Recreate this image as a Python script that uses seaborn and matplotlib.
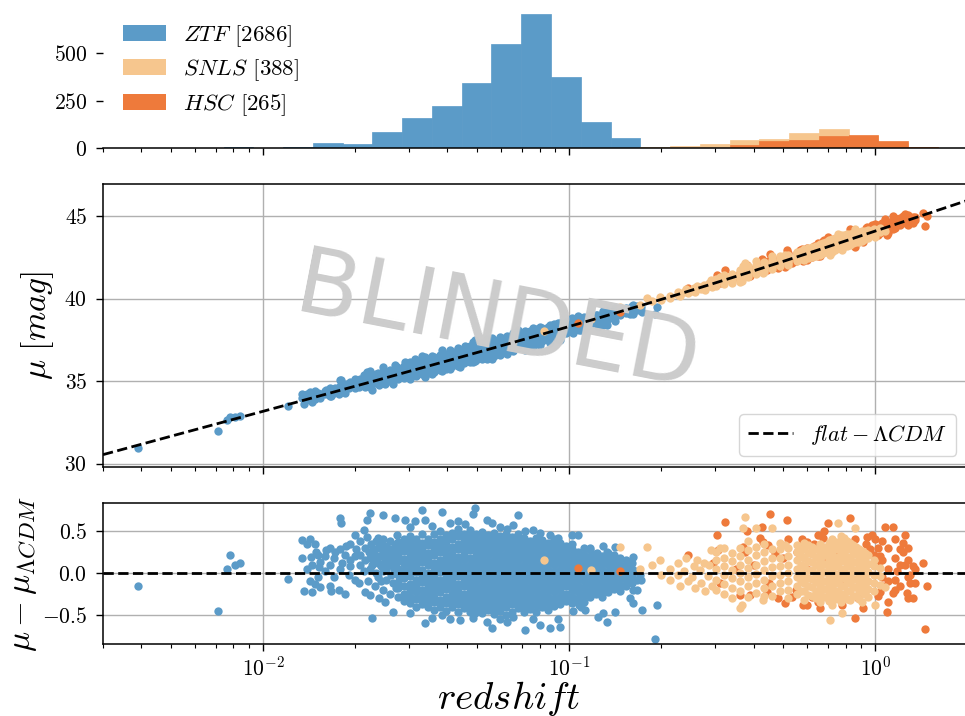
import numpy as np
import pandas as pd
import matplotlib
matplotlib.use("Agg")
import matplotlib.pyplot as plt
from matplotlib.patches import Patch
import seaborn as sns

# ---------------------------------------------------------------- data
surveys = ["ZTF", "SNLS", "HSC"]
survey_sizes = [2686, 388, 265]
survey_colors = ["#5b9bc8", "#f6c68e", "#ee7a3b"]

# histogram (log-spaced bins between hist_range)
hist_range = (0.0038, 1.6)
hist_nbins = 27
ztf_hist = [1, 0, 1, 4, 0, 4, 26, 23, 82, 160, 219, 342, 549, 707, 375, 135, 51, 7,
            0, 0, 0, 0, 0, 0, 0, 0, 0]
snls_hist = [0, 0, 0, 0, 0, 0, 0, 0, 0, 0, 0, 0, 0, 0, 1, 1, 1, 4,
             8, 19, 40, 47, 79, 100, 62, 26, 0]
hsc_hist = [0, 0, 0, 0, 0, 0, 0, 0, 0, 0, 0, 0, 0, 0, 0, 1, 1, 0,
            0, 0, 14, 36, 43, 63, 68, 35, 4]

# Hubble residuals (redshift, mu - mu_LCDM)
ztf_sparse = [
    (0.0039, -0.15), (0.0071, -0.45), (0.0076, 0.05), (0.0078, 0.22), (0.0081, 0.09), (0.0084, 0.12),
    (0.0121, -0.07), (0.0134, 0.39), (0.0134, 0.18), (0.0136, -0.22), (0.0139, 0.35), (0.0139, 0.05),
    (0.0142, 0.40), (0.0142, -0.10), (0.0143, 0.19), (0.0145, 0.10), (0.0145, -0.23), (0.0148, 0.35),
    (0.0148, -0.13), (0.0149, 0.25), (0.0151, 0.21), (0.0151, -0.05), (0.0152, 0.07), (0.0153, 0.13),
    (0.0154, -0.17), (0.0159, 0.20), (0.0159, 0.02), (0.0160, 0.27), (0.0165, 0.10), (0.0165, -0.15),
    (0.0166, 0.30), (0.0167, -0.22), (0.0171, 0.18), (0.0171, -0.05), (0.0172, 0.25), (0.0178, 0.65),
    (0.0178, 0.28), (0.0177, -0.20), (0.0179, 0.05), (0.0180, 0.60), (0.0181, 0.12), (0.0185, 0.22),
    (0.0185, -0.25), (0.0186, 0.32), (0.0192, 0.15), (0.0192, 0.35), (0.0191, -0.02), (0.0193, 0.08),
    (0.0199, 0.45), (0.0199, -0.08), (0.0200, 0.20), (0.0201, 0.28), (0.0207, 0.10), (0.0207, 0.38),
    (0.0206, -0.12), (0.0208, 0.22), (0.0215, -0.23), (0.0214, 0.51), (0.0215, 0.15), (0.0216, 0.30),
    (0.0214, 0.02), (0.0219, 0.43), (0.0219, 0.63), (0.0220, -0.10), (0.0221, 0.25), (0.0223, 0.71),
    (0.0223, -0.26), (0.0224, 0.18), (0.0224, 0.05), (0.0225, 0.35), (0.0227, -0.54), (0.0227, 0.10),
    (0.0228, 0.28), (0.0232, 0.22), (0.0232, -0.15), (0.0233, 0.38), (0.0233, 0.00), (0.0234, 0.15),
    (0.0237, 0.30), (0.0237, -0.05), (0.0238, 0.12), (0.0238, 0.42), (0.0239, -0.30), (0.0241, 0.20),
    (0.0242, -0.10), (0.0242, 0.08), (0.0243, 0.33), (0.0246, 0.69), (0.0246, -0.20), (0.0246, 0.25),
    (0.0247, 0.02), (0.0247, 0.40), (0.0248, 0.12), (0.0251, -0.35), (0.0251, 0.15), (0.0252, 0.32),
    (0.0252, -0.08), (0.0253, 0.05), (0.0253, 0.22), (0.0259, 0.28), (0.0259, -0.25), (0.0260, 0.10),
    (0.0260, 0.38), (0.0261, -0.02), (0.0261, 0.18), (0.0265, -0.46), (0.0266, 0.22), (0.0266, -0.12),
    (0.0267, 0.05), (0.0267, 0.30), (0.0270, 0.65), (0.0271, 0.12), (0.0271, -0.18), (0.0272, 0.35),
    (0.0272, 0.00), (0.0273, 0.25), (0.0273, 0.45),
    (0.0290, 0.63), (0.0302, 0.55), (0.0303, -0.48), (0.0314, 0.62), (0.0315, -0.40), (0.0330, 0.75),
    (0.0338, 0.63), (0.0339, -0.60), (0.0356, -0.54), (0.0357, 0.56), (0.0383, 0.73), (0.0384, -0.50),
    (0.0407, 0.60), (0.0408, -0.55), (0.0432, 0.62), (0.0439, -0.56), (0.0456, 0.58), (0.0485, -0.53),
    (0.0486, 0.70), (0.0492, 0.77), (0.0493, -0.48), (0.0539, 0.63), (0.0540, -0.58), (0.0560, -0.65),
    (0.0561, 0.60), (0.0594, 0.55), (0.0596, -0.55), (0.0626, -0.58), (0.0627, 0.52), (0.0655, 0.57),
    (0.0656, -0.52), (0.0680, 0.69), (0.0717, -0.68), (0.0718, 0.50), (0.0760, 0.51), (0.0761, -0.55),
    (0.0802, -0.62), (0.0803, 0.48), (0.0865, -0.66), (0.0866, 0.45), (0.0918, 0.42), (0.0919, -0.55),
    (0.0932, -0.64), (0.102, 0.45), (0.103, -0.45), (0.107, 0.45), (0.108, -0.38), (0.109, -0.40),
    (0.113, -0.44), (0.117, 0.30), (0.123, 0.24), (0.124, -0.52), (0.129, -0.48), (0.129, 0.32),
    (0.133, 0.25), (0.133, -0.58), (0.141, 0.31), (0.141, -0.46), (0.158, 0.06), (0.158, -0.30),
    (0.161, 0.19), (0.161, -0.20), (0.162, -0.36), (0.167, -0.20), (0.170, -0.02), (0.172, -0.08),
    (0.173, -0.44), (0.190, -0.78), (0.193, -0.38),
]
ztf_core_z = [0.0276, 0.0288, 0.0302, 0.0316, 0.0330, 0.0346, 0.0361, 0.0378, 0.0395, 0.0413,
              0.0432, 0.0452, 0.0474, 0.0496, 0.0518, 0.0543, 0.0568, 0.0594, 0.0621, 0.0650,
              0.0680, 0.0711, 0.0744, 0.0778, 0.0814, 0.0852, 0.0891, 0.0932, 0.0975, 0.102,
              0.107, 0.112, 0.117, 0.122, 0.128, 0.134, 0.140, 0.146, 0.153, 0.160, 0.167]
ztf_core_res = [
    [-0.28, -0.18, -0.11, -0.02, 0.05, 0.14, 0.21, 0.30, 0.37],
    [-0.33, -0.25, -0.15, -0.06, 0.02, 0.11, 0.17, 0.26, 0.33, 0.41],
    [-0.36, -0.28, -0.20, -0.13, -0.04, 0.05, 0.12, 0.20, 0.29, 0.36, 0.44],
    [-0.31, -0.23, -0.16, -0.08, 0.01, 0.08, 0.17, 0.25, 0.32, 0.40],
    [-0.37, -0.29, -0.20, -0.11, -0.04, 0.04, 0.13, 0.21, 0.28, 0.36, 0.47],
    [-0.40, -0.32, -0.24, -0.16, -0.07, 0.00, 0.09, 0.17, 0.24, 0.33, 0.41],
    [-0.44, -0.35, -0.28, -0.20, -0.12, -0.03, 0.04, 0.12, 0.21, 0.29, 0.37, 0.46],
    [-0.40, -0.32, -0.23, -0.16, -0.08, 0.01, 0.08, 0.16, 0.25, 0.32, 0.41, 0.50],
    [-0.45, -0.36, -0.28, -0.19, -0.12, -0.05, 0.04, 0.12, 0.20, 0.28, 0.37, 0.45],
    [-0.41, -0.33, -0.25, -0.17, -0.08, -0.01, 0.07, 0.15, 0.23, 0.31, 0.40, 0.48],
    [-0.46, -0.37, -0.29, -0.21, -0.13, -0.04, 0.03, 0.11, 0.19, 0.28, 0.35, 0.44, 0.52],
    [-0.42, -0.33, -0.25, -0.16, -0.09, -0.01, 0.07, 0.16, 0.23, 0.31, 0.39, 0.47],
    [-0.47, -0.38, -0.30, -0.22, -0.14, -0.06, 0.02, 0.10, 0.18, 0.27, 0.34, 0.43, 0.51],
    [-0.43, -0.35, -0.26, -0.18, -0.10, -0.02, 0.06, 0.14, 0.22, 0.30, 0.38, 0.46],
    [-0.48, -0.39, -0.31, -0.23, -0.15, -0.07, 0.01, 0.09, 0.17, 0.25, 0.33, 0.41, 0.49],
    [-0.44, -0.36, -0.27, -0.19, -0.11, -0.03, 0.05, 0.13, 0.21, 0.29, 0.37, 0.45],
    [-0.49, -0.40, -0.32, -0.24, -0.16, -0.08, 0.00, 0.08, 0.16, 0.24, 0.32, 0.40, 0.48],
    [-0.45, -0.37, -0.28, -0.20, -0.12, -0.04, 0.04, 0.12, 0.20, 0.28, 0.36, 0.44],
    [-0.50, -0.41, -0.33, -0.25, -0.17, -0.09, -0.01, 0.07, 0.15, 0.23, 0.31, 0.39, 0.47],
    [-0.46, -0.37, -0.29, -0.21, -0.13, -0.05, 0.03, 0.11, 0.19, 0.27, 0.35, 0.43],
    [-0.42, -0.33, -0.25, -0.17, -0.09, -0.01, 0.07, 0.15, 0.23, 0.31, 0.39, 0.46],
    [-0.47, -0.38, -0.30, -0.22, -0.14, -0.06, 0.02, 0.10, 0.18, 0.26, 0.34, 0.42],
    [-0.43, -0.34, -0.26, -0.18, -0.10, -0.02, 0.06, 0.14, 0.22, 0.30, 0.38],
    [-0.46, -0.38, -0.30, -0.22, -0.14, -0.06, 0.02, 0.10, 0.18, 0.26, 0.34, 0.42],
    [-0.41, -0.33, -0.25, -0.17, -0.09, -0.01, 0.07, 0.15, 0.23, 0.31, 0.39],
    [-0.44, -0.36, -0.28, -0.20, -0.12, -0.04, 0.04, 0.12, 0.20, 0.28, 0.36],
    [-0.39, -0.31, -0.23, -0.15, -0.07, 0.01, 0.09, 0.17, 0.25, 0.33, 0.41],
    [-0.37, -0.28, -0.20, -0.12, -0.04, 0.04, 0.12, 0.20, 0.28, 0.36],
    [-0.33, -0.25, -0.16, -0.08, 0.00, 0.08, 0.16, 0.24, 0.32],
    [-0.36, -0.28, -0.20, -0.12, -0.04, 0.04, 0.12, 0.20, 0.28, 0.35],
    [-0.31, -0.23, -0.15, -0.07, 0.01, 0.09, 0.17, 0.25],
    [-0.34, -0.26, -0.18, -0.10, -0.02, 0.06, 0.14, 0.22, 0.30],
    [-0.29, -0.21, -0.13, -0.05, 0.03, 0.11, 0.19, 0.27],
    [-0.25, -0.17, -0.09, -0.01, 0.07, 0.15, 0.23],
    [-0.28, -0.20, -0.12, -0.04, 0.04, 0.12, 0.20],
    [-0.23, -0.15, -0.07, 0.01, 0.09, 0.17, 0.24],
    [-0.19, -0.11, -0.03, 0.05, 0.13, 0.21],
    [-0.22, -0.14, -0.06, 0.02, 0.10, 0.18],
    [-0.16, -0.08, 0.00, 0.08, 0.15],
    [-0.12, -0.04, 0.05, 0.12],
    [-0.08, 0.02],
]

snls_sparse = [
    (0.083, 0.15), (0.118, 0.04), (0.146, 0.31), (0.170, 0.05), (0.180, 0.31), (0.186, 0.10),
    (0.198, 0.15), (0.200, -0.02), (0.214, 0.05), (0.214, -0.08), (0.227, 0.12), (0.227, -0.02),
    (0.230, -0.15), (0.237, 0.02), (0.240, 0.18), (0.244, -0.10), (0.252, -0.05), (0.255, 0.08),
    (0.258, -0.18), (0.262, 0.15), (0.267, 0.03), (0.270, -0.12), (0.275, 0.12), (0.278, -0.22),
    (0.284, -0.04), (0.287, 0.09), (0.290, 0.27), (0.292, -0.15), (0.310, 0.30), (0.361, -0.42),
    (0.366, -0.38), (0.369, 0.53), (0.374, 0.67), (0.408, 0.53), (0.429, -0.32), (0.461, 0.54),
    (0.507, 0.33), (0.711, -0.56), (0.755, 0.60), (0.780, -0.48), (0.857, 0.53), (1.00, -0.38),
    (1.075, -0.17),
]
snls_core_z = [0.301, 0.320, 0.340, 0.361, 0.384, 0.408, 0.433, 0.461, 0.489, 0.520, 0.553,
               0.570, 0.586, 0.603, 0.620, 0.640, 0.659, 0.674, 0.690, 0.706, 0.722, 0.738,
               0.755, 0.772, 0.790, 0.808, 0.826, 0.845, 0.865, 0.885, 0.905, 0.925, 0.946,
               0.990, 1.036]
snls_core_res = [
    [-0.20, -0.08, 0.05, 0.15, 0.25],
    [-0.25, -0.13, -0.02, 0.08, 0.18, 0.30],
    [-0.30, -0.18, -0.06, 0.04, 0.14, 0.24],
    [-0.22, -0.10, 0.00, 0.10, 0.20, 0.30],
    [-0.28, -0.16, -0.05, 0.06, 0.16, 0.27, 0.38],
    [-0.24, -0.12, -0.01, 0.10, 0.21, 0.31],
    [-0.27, -0.18, -0.08, 0.03, 0.14, 0.25, 0.35],
    [-0.27, -0.15, -0.04, 0.07, 0.18, 0.28],
    [-0.22, -0.12, -0.02, 0.08, 0.18, 0.28, 0.36],
    [-0.30, -0.20, -0.10, 0.00, 0.10, 0.20, 0.30],
    [-0.25, -0.15, -0.05, 0.05, 0.15, 0.25, 0.33],
    [-0.21, -0.10, 0.00, 0.10, 0.20, 0.29],
    [-0.32, -0.22, -0.12, -0.02, 0.08, 0.18, 0.28, 0.36],
    [-0.26, -0.16, -0.06, 0.04, 0.14, 0.24, 0.33],
    [-0.27, -0.17, -0.07, 0.03, 0.13, 0.23, 0.31],
    [-0.30, -0.21, -0.11, -0.01, 0.09, 0.19, 0.28],
    [-0.34, -0.24, -0.14, -0.04, 0.06, 0.16, 0.26, 0.34],
    [-0.29, -0.19, -0.09, 0.01, 0.11, 0.21, 0.31],
    [-0.28, -0.19, -0.09, 0.01, 0.11, 0.21, 0.30],
    [-0.33, -0.23, -0.13, -0.03, 0.07, 0.17, 0.27, 0.36],
    [-0.38, -0.27, -0.17, -0.07, 0.03, 0.13, 0.23, 0.32, 0.40],
    [-0.31, -0.22, -0.12, -0.02, 0.08, 0.18, 0.28, 0.37],
    [-0.30, -0.21, -0.11, -0.01, 0.09, 0.19, 0.28, 0.37],
    [-0.35, -0.25, -0.15, -0.05, 0.05, 0.15, 0.25, 0.34, 0.44],
    [-0.26, -0.16, -0.06, 0.04, 0.14, 0.24, 0.33, 0.42],
    [-0.31, -0.21, -0.11, -0.01, 0.09, 0.19, 0.29, 0.38],
    [-0.32, -0.22, -0.12, -0.02, 0.08, 0.18, 0.28, 0.36],
    [-0.27, -0.17, -0.07, 0.03, 0.13, 0.23, 0.33],
    [-0.27, -0.17, -0.07, 0.03, 0.13, 0.23, 0.31],
    [-0.31, -0.21, -0.11, -0.01, 0.09, 0.19, 0.28],
    [-0.34, -0.23, -0.13, -0.03, 0.07, 0.17, 0.26],
    [-0.25, -0.15, -0.05, 0.05, 0.15, 0.24],
    [-0.29, -0.19, -0.09, 0.01, 0.11, 0.21],
    [-0.22, -0.12, -0.02, 0.08, 0.16],
    [-0.14, -0.04, 0.06],
]

hsc_points = [
    (0.107, 0.06), (0.146, 0.02), (0.244, 0.21), (0.295, 0.12), (0.304, 0.45), (0.306, 0.27),
    (0.311, -0.12), (0.322, 0.61), (0.361, -0.26), (0.369, 0.31), (0.374, 0.25), (0.389, -0.26),
    (0.426, 0.55), (0.429, 0.37), (0.442, -0.23), (0.446, 0.33), (0.453, 0.70), (0.470, 0.24),
    (0.507, -0.36), (0.513, 0.63), (0.534, -0.29), (0.554, 0.25), (0.567, 0.33), (0.576, 0.40),
    (0.580, -0.38), (0.598, 0.37), (0.600, -0.38), (0.649, 0.45), (0.659, -0.42), (0.674, 0.42),
    (0.700, 0.60), (0.778, -0.38), (0.826, 0.65), (0.857, -0.54), (0.911, -0.42), (0.939, 0.43),
    (0.975, 0.45), (1.02, 0.30), (1.02, 0.10), (1.02, -0.27), (1.036, 0.20), (1.036, -0.23),
    (1.075, 0.55), (1.09, -0.46), (1.14, 0.55), (1.14, -0.24), (1.18, 0.02), (1.20, 0.09),
    (1.23, 0.36), (1.23, 0.25), (1.25, 0.45), (1.25, 0.10), (1.27, -0.24), (1.30, -0.12),
    (1.30, -0.02), (1.33, 0.08), (1.33, -0.30), (1.43, 0.12), (1.45, -0.67), (1.48, -0.15),
    (1.05, 0.38), (1.05, 0.15), (1.05, -0.05), (1.05, -0.15), (1.10, 0.30), (1.10, 0.05),
    (1.10, -0.10), (1.10, -0.35), (1.16, 0.40), (1.16, 0.18), (1.16, -0.08), (1.16, -0.20),
    (1.20, 0.28), (1.20, -0.15), (1.28, 0.30), (1.28, 0.15), (1.28, -0.05), (1.28, -0.30),
    (1.35, 0.05), (1.35, -0.12), (0.63, 0.35), (0.93, 0.35), (0.96, 0.28), (0.99, 0.22),
    (1.00, 0.40), (0.88, -0.30), (0.72, -0.30), (0.65, -0.35), (0.50, 0.18), (0.45, -0.12),
    (0.40, 0.10), (0.55, -0.20), (0.35, 0.05), (0.42, 0.42), (0.38, 0.50), (0.60, 0.05),
    (0.70, 0.15), (0.80, -0.10), (0.75, 0.25), (0.68, 0.50), (0.62, -0.28), (0.86, 0.40),
    (0.52, 0.40), (0.48, -0.30),
]

H0, OM0 = 70.0, 0.3
C_KMS = 299792.458


# ---------------------------------------------------------------- helpers
def mu_lcdm(z):
    z = np.asarray(z, dtype=float)
    zg = np.linspace(0.0, 2.5, 5001)
    inv_e = 1.0 / np.sqrt(OM0 * (1 + zg) ** 3 + 1 - OM0)
    dc = np.concatenate([[0.0], np.cumsum(0.5 * (inv_e[1:] + inv_e[:-1]) * np.diff(zg))])
    dc *= C_KMS / H0
    dl = (1 + z) * np.interp(z, zg, dc)
    return 5 * np.log10(dl) + 25


def expand(core_z, core_res):
    return [(z, r) for z, rs in zip(core_z, core_res) for r in rs]


pts = {
    "ZTF": ztf_sparse + expand(ztf_core_z, ztf_core_res),
    "SNLS": snls_sparse + expand(snls_core_z, snls_core_res),
    "HSC": hsc_points,
}
frames = []
for name in surveys:
    d = pd.DataFrame(pts[name], columns=["z", "res"])
    d["survey"] = name
    frames.append(d)
df = pd.concat(frames, ignore_index=True)
df["mu"] = mu_lcdm(df["z"]) + df["res"]
color_of = dict(zip(surveys, survey_colors))

# ---------------------------------------------------------------- style
plt.rcParams.update({
    "font.family": "serif",
    "font.serif": ["cmr10", "DejaVu Serif"],
    "mathtext.fontset": "cm",
    "axes.formatter.use_mathtext": True,
    "axes.linewidth": 1.1,
    "xtick.major.size": 5, "xtick.minor.size": 3,
    "ytick.major.size": 5, "ytick.minor.size": 3,
    "xtick.major.width": 1.0, "ytick.major.width": 1.0,
    "xtick.minor.width": 0.8,
    "xtick.labelsize": 15.5, "ytick.labelsize": 15.5,
    "ytick.major.pad": 6.5,
})

W, H = 965, 716
fig = plt.figure(figsize=(W / 100, H / 100), dpi=100)


def px_axes(left, top, right, bottom, **kw):
    return fig.add_axes([left / W, 1 - bottom / H, (right - left) / W, (bottom - top) / H], **kw)


ax_res = px_axes(103, 503, 967.5, 644)
ax_main = px_axes(103, 184, 967.5, 467, sharex=ax_res)
ax_hist = px_axes(103, 13, 967.5, 148, sharex=ax_res)
for ax in (ax_res, ax_main, ax_hist):
    ax.set_xscale("log")
ax_res.set_xlim(0.003, 2.0)

# ---------------------------------------------------------------- histogram
log_lo, log_hi = np.log10(hist_range)
edges = np.logspace(log_lo, log_hi, hist_nbins + 1)
centers = np.sqrt(edges[:-1] * edges[1:])
for name, counts in zip(surveys, [ztf_hist, snls_hist, hsc_hist]):
    c = color_of[name]
    sns.histplot(x=centers, weights=counts, bins=hist_nbins, binrange=(log_lo, log_hi),
                 color=c, alpha=1, edgecolor=c, linewidth=0.5, ax=ax_hist)
ax_hist.set_ylim(0, 711)
ax_hist.set_yticks([0, 250, 500])
ax_hist.set_ylabel("")
for s in ("top", "right", "left"):
    ax_hist.spines[s].set_visible(False)
ax_hist.tick_params(labelbottom=False)
handles = [Patch(facecolor=color_of[n], edgecolor="none") for n in surveys]
labels = [f"${n}$ [{k}]" for n, k in zip(surveys, survey_sizes)]
ax_hist.legend(handles, labels, loc="upper left", bbox_to_anchor=(20 / 864.5, 0.925),
               frameon=False, fontsize=16.5, handlelength=1.88, handleheight=0.7,
               labelspacing=0.38, handletextpad=0.74, borderaxespad=0, borderpad=0)

# ---------------------------------------------------------------- main panel
zline = np.logspace(np.log10(0.003), np.log10(2.0), 300)
draw_order = ["ZTF", "HSC", "SNLS"]
for name in draw_order:
    sub = df[df["survey"] == name]
    sns.scatterplot(data=sub, x="z", y="mu", color=color_of[name], s=36, linewidth=0,
                    ax=ax_main, zorder=2, legend=False)
sns.lineplot(x=zline, y=mu_lcdm(zline), color="black", linestyle="--", linewidth=2,
             ax=ax_main, zorder=4, label=r"$flat-\Lambda CDM$")
ax_main.set_ylim(29.8, 46.95)
ax_main.set_yticks([30, 35, 40, 45])
ax_main.grid(True, which="major", color="#b0b0b0", linewidth=1.0)
ax_main.set_axisbelow(True)
ax_main.tick_params(labelbottom=False)
ax_main.set_xlabel("")
ax_main.set_ylabel(r"$\mu\ [mag]$", fontsize=24, labelpad=6)
ax_main.legend(loc="lower right", fontsize=16)
ax_main.text(0.456, 0.505, "BLINDED", transform=ax_main.transAxes, family="DejaVu Sans",
             fontsize=66, color="#cccccc", rotation=-11, rotation_mode="anchor",
             ha="center", va="center", zorder=3)

# ---------------------------------------------------------------- residuals
for name in draw_order:
    sub = df[df["survey"] == name]
    sns.scatterplot(data=sub, x="z", y="res", color=color_of[name], s=36, linewidth=0,
                    ax=ax_res, zorder=2, legend=False)
ax_res.axhline(0, color="black", linestyle="--", linewidth=2, zorder=4)
ax_res.set_ylim(-0.845, 0.833)
ax_res.set_yticks([-0.5, 0.0, 0.5])
ax_res.grid(True, which="major", color="#b0b0b0", linewidth=1.0)
ax_res.set_axisbelow(True)
ax_res.set_ylabel(r"$\mu-\mu_{\Lambda CDM}$", fontsize=24, labelpad=2)
ax_res.set_xlabel(r"$redshift$", fontsize=28)
ax_res.xaxis.set_label_coords(0.47, -0.245)
ax_res.xaxis.label.set_va("top")

fig.savefig("out.png", dpi=100)
